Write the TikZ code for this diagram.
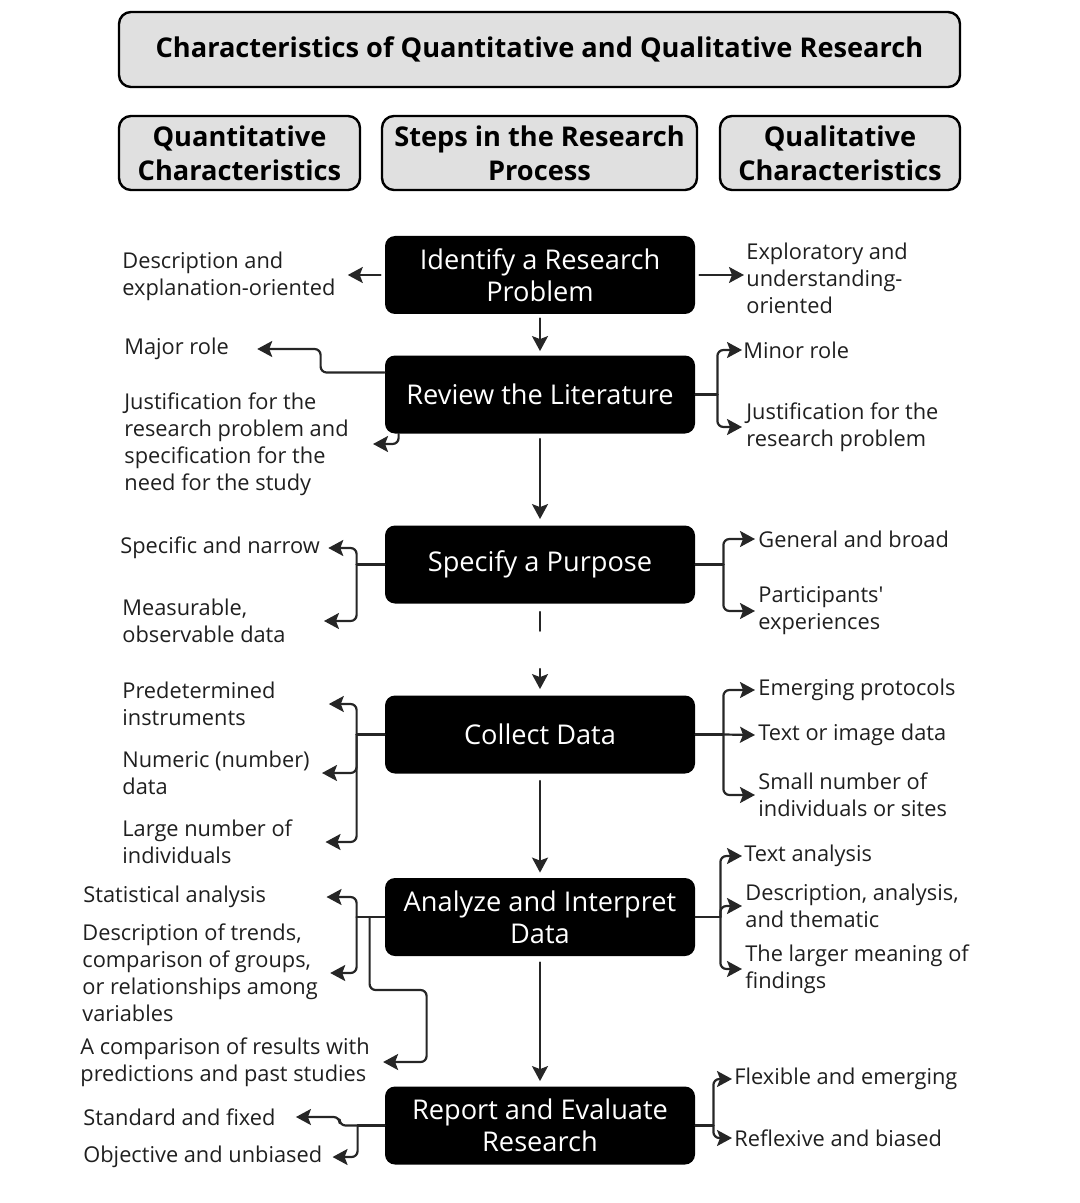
\documentclass[tikz,border=0pt]{standalone}
\usepackage{fontspec}
\setmainfont{Open Sans}
\usetikzlibrary{arrows.meta}

\begin{document}
\begin{tikzpicture}[x=0.5pt,y=-0.5pt,line cap=round,line join=round,
  headbox/.style={draw=black,line width=1.2pt,fill=black!12,rounded corners=6pt,font=\fontsize{13.6}{17}\selectfont\bfseries,align=center,inner sep=0pt},
  stepbox/.style={fill=black,rounded corners=5pt,text=white,font=\fontsize{13.6}{16}\selectfont,align=center,minimum width=155pt,minimum height=39pt,inner sep=0pt},
  note/.style={font=\fontsize{10.9}{13.5}\selectfont,text=black!88,align=left,anchor=west,inner sep=0pt},
  link/.style={line width=1.1pt,draw=black!85,-{Stealth[length=7.5pt,width=8pt,inset=1.5pt]},rounded corners=3pt},
  stem/.style={line width=1.1pt,draw=black!85}]
\useasboundingbox (0,0) rectangle (1080,1203);
% headings
\node[headbox,minimum width=420.5pt,minimum height=37.5pt] (ttl) at (539.5,49.5) {Characteristics of Quantitative and Qualitative Research};
\node[headbox,minimum width=120.5pt,minimum height=37pt] (hqn) at (239.5,153) {Quantitative\\Characteristics};
\node[headbox,minimum width=157.5pt,minimum height=37pt] (hst) at (539.5,153) {Steps in the Research\\Process};
\node[headbox,minimum width=120pt,minimum height=37pt] (hql) at (840,153) {Qualitative\\Characteristics};
% steps
\node[stepbox] (idp) at (540,275) {Identify a Research\\Problem};
\node[stepbox] (rev) at (540,394.5) {Review the Literature};
\node[stepbox] (spc) at (540,564.5) {Specify a Purpose};
\node[stepbox] (col) at (540,734.5) {Collect Data};
\node[stepbox] (ana) at (540,917) {Analyze and Interpret\\Data};
\node[stepbox] (rep) at (540,1125.5) {Report and Evaluate\\Research};
% quantitative side
\node[note] (qn1) at (122,276) {Description and\\explanation-oriented};
\node[note] (qn2) at (124,349) {Major role};
\node[note] (qn3) at (124,444) {Justification for the\\research problem and\\specification for the\\need for the study};
\node[note] (qn4) at (120,548) {Specific and narrow};
\node[note] (qn5) at (122,621) {Measurable,\\observable data};
\node[note] (qn6) at (122,704) {Predetermined\\instruments};
\node[note] (qn7) at (122,773) {Numeric (number)\\data};
\node[note] (qn8) at (122,842) {Large number of\\individuals};
\node[note] (qn9) at (83,897) {Statistical analysis};
\node[note] (qn10) at (82,973) {Description of trends,\\comparison of groups,\\or relationships among\\variables};
\node[note] (qn11) at (80,1062) {A comparison of results with\\predictions and past studies};
\node[note] (qn12) at (83,1117) {Standard and fixed};
\node[note] (qn13) at (83,1157) {Objective and unbiased};
% qualitative side
\node[note] (ql1) at (746,278) {Exploratory and\\understanding-\\oriented};
\node[note] (ql2) at (743,350) {Minor role};
\node[note] (ql3) at (746,427) {Justification for the\\research problem};
\node[note] (ql4) at (758,539) {General and broad};
\node[note] (ql5) at (758,611) {Participants\textquotesingle\\experiences};
\node[note] (ql6) at (758,690) {Emerging protocols};
\node[note] (ql7) at (758,735) {Text or image data};
\node[note] (ql8) at (758,795) {Small number of\\individuals or sites};
\node[note] (ql9) at (744,856) {Text analysis};
\node[note] (ql10) at (745,906) {Description, analysis,\\and thematic};
\node[note] (ql11) at (745,969) {The larger meaning of\\findings};
\node[note] (ql12) at (734,1079) {Flexible and emerging};
\node[note] (ql13) at (734,1138) {Reflexive and biased};
% main flow
\draw[link] ([yshift=-2pt]idp.south) -- ([yshift=2pt]rev.north);
\draw[link] ([yshift=-2.5pt]rev.south) -- ([yshift=3pt]spc.north);
\draw[stem] ([yshift=-4pt]spc.south) -- ++(0,19) coordinate (gapA);
\path (spc.south) ++(0,65) coordinate (gapB);
\draw[link] (gapB) -- ([yshift=3pt]col.north);
\draw[link] ([yshift=-3.5pt]col.south) -- ([yshift=2.5pt]ana.north);
\draw[link] ([yshift=-3pt]ana.south) -- ([yshift=2.5pt]rep.north);
% identify
\draw[link] ([xshift=-2pt]idp.west) -- ([xshift=6pt]qn1.east |- idp.west);
\draw[link] ([xshift=2pt]idp.east) -- ([xshift=-1pt]ql1.west |- idp.east);
% review
\draw[link] ([yshift=11pt]rev.west) -- ++(-64,0) |- ([xshift=14pt]qn2.east);
\draw[link] ([xshift=7pt]rev.south west) |- ([xshift=12pt]qn3.east);
\draw[stem] (rev.east) -- ++(22,0) coordinate (rvR);
\draw[link] (rvR) |- ([xshift=-0.5pt]ql2.west);
\draw[link] (rvR) |- ([xshift=-2pt]ql3.west);
% specify
\draw[stem] (spc.west) -- ++(-28,0) coordinate (spL);
\draw[link] (spL) |- ([xshift=4pt]qn4.east);
\draw[link] (spL) |- ([xshift=19pt]qn5.east);
\draw[stem] (spc.east) -- ++(28,0) coordinate (spR);
\draw[link] (spR) |- ([xshift=-1.5pt]ql4.west);
\draw[link] (spR) |- ([xshift=-1.5pt]ql5.west);
% collect
\draw[stem] (col.west) -- ++(-28,0) coordinate (clL);
\draw[link] (clL) |- ([xshift=26.5pt]qn6.east);
\draw[link] (clL) |- ([xshift=6pt]qn7.east);
\draw[link] (clL) |- ([xshift=16.5pt]qn8.east);
\draw[stem] (col.east) -- ++(28,0) coordinate (clR);
\draw[link] (clR) |- ([xshift=-1.5pt]ql6.west);
\draw[link] (clR) -- ([xshift=-1.5pt]ql7.west);
\draw[link] (clR) |- ([xshift=-1.5pt]ql8.west);
% analyze
\draw[stem] (ana.west) -- ++(-28,0) coordinate (anL);
\draw[link] (anL) |- ([xshift=30pt]qn9.east);
\draw[link] (anL) |- ([xshift=6pt]qn10.east);
\draw[link] ([xshift=-7.5pt]ana.west) |- ++(57,73) |- ([xshift=6.5pt]qn11.east);
\draw[stem] (ana.east) -- ++(25,0) coordinate (anR);
\draw[link] (anR) |- ([xshift=-1pt]ql9.west);
\draw[link] (anR) |- ([xshift=-1.5pt]ql10.west);
\draw[link] (anR) |- ([xshift=-1.5pt]ql11.west);
% report
\draw[stem] (rep.west) -- ++(-27,0) coordinate (rpL);
\draw[link] (rpL) -- ++(-18,0) |- ([xshift=10pt]qn12.east);
\draw[link] (rpL) |- ([xshift=5pt]qn13.east);
\draw[stem] (rep.east) -- ++(18,0) coordinate (rpR);
\draw[link] (rpR) |- ([xshift=-1pt]ql12.west);
\draw[link] (rpR) |- ([xshift=-1pt]ql13.west);
\end{tikzpicture}
\end{document}
